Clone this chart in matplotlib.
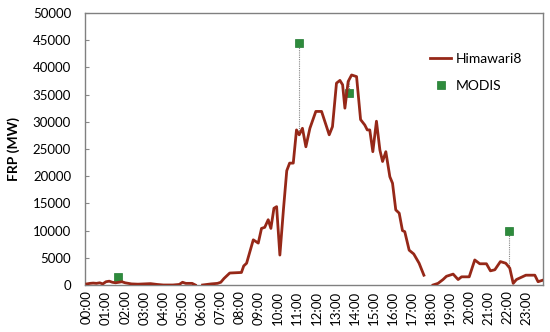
import numpy as np
import matplotlib
matplotlib.use("Agg")
import matplotlib.pyplot as plt

plt.rcParams['font.family'] = ['Lato', 'DejaVu Sans']

nan = float('nan')
# Himawari8 FRP (time in hours, MW)
him_hours = [0.0, 0.17, 0.33, 0.5, 0.67, 0.83, 1.0, 1.17, 1.33, 1.5, 1.67, 1.83, 2.0, 2.17,
             2.33, 2.67, 3.0, 3.33, 3.67, 4.0, 4.5, 4.83, 5.0, 5.17, 5.5, 5.67, 5.85,
             6.05, 6.5, 6.83, 7.0, 7.17, 7.47, 8.08, 8.2, 8.35, 8.7, 8.96, 9.13, 9.3, 9.48,
             9.62, 9.78, 9.92, 10.09, 10.28, 10.45, 10.6, 10.79, 10.96, 11.1, 11.27, 11.45,
             11.66, 11.97, 12.27, 12.67, 12.84, 13.05, 13.23, 13.37, 13.49, 13.66, 13.84,
             14.1, 14.31, 14.53, 14.66, 14.79, 14.95, 15.14, 15.32, 15.46, 15.63, 15.84,
             15.98, 16.15, 16.33, 16.5, 16.62, 16.85, 17.09, 17.37, 17.62, 17.85,
             18.1, 18.36, 18.62, 18.8, 19.15, 19.41, 19.59, 19.99, 20.28, 20.54, 20.89,
             21.1, 21.33, 21.62, 21.9, 22.11, 22.29, 22.46, 22.95, 23.42, 23.59, 23.85]
him_frp = [200, 300, 350, 300, 400, 200, 600, 700, 500, 400, 500, 600, 400, 300,
           200, 150, 200, 250, 100, 0, 0, 100, 500, 300, 300, 0, nan,
           0, 200, 300, 500, 1200, 2200, 2300, 3500, 4000, 8300, 7700, 10400, 10600, 12000,
           10400, 14100, 14400, 5500, 14000, 21000, 22400, 22400, 28500, 27600, 28800, 25400,
           28800, 31900, 31900, 27600, 29100, 37100, 37600, 36800, 32500, 37400, 38600,
           38300, 30400, 29400, 28500, 28500, 24500, 30100, 24800, 22700, 24500, 19900,
           18700, 13800, 13200, 10000, 9800, 6400, 5700, 4000, 1800, nan,
           0, 300, 1000, 1600, 2000, 1000, 1500, 1500, 4600, 3900, 3900,
           2600, 2800, 4300, 4000, 3100, 300, 1000, 1800, 1800, 600, 900]

# MODIS FRP
modis_hours = [1.64, 11.1, 13.71, 22.08]
modis_frp = [1500, 44400, 35350, 10000]

tick_hours = list(range(24))
tick_labels = [f"{h:02d}:00" for h in tick_hours]
y_ticks = list(range(0, 50001, 5000))

fig = plt.figure(figsize=(5.5, 3.32), dpi=100)
ax = fig.add_axes([0.1545, 0.1416, 0.8325, 0.8194])

h = np.array(him_hours, dtype=float)
v = np.array(him_frp, dtype=float)
ok = ~np.isnan(v)
for mh, mv in zip(modis_hours, modis_frp):
    cv = np.interp(mh, h[ok], v[ok])
    ax.plot([mh, mh], [mv, cv], color='#888888', lw=0.8, ls=(0, (1, 1)), zorder=1)

ax.plot(modis_hours, modis_frp, ls='none', marker='s', ms=6, color='#2e8b3c',
        mec='#1f7a30', mew=0.5, label='MODIS', zorder=2)
ax.plot(h, v, color='#962818', lw=2, label='Himawari8', zorder=3)

ax.set_xlim(-0.1, 23.84)
ax.set_ylim(0, 50000)
ax.set_xticks(tick_hours)
ax.set_xticklabels(tick_labels, rotation=90, fontsize=9.5)
ax.set_yticks(y_ticks)
ax.set_yticklabels([str(t) for t in y_ticks], fontsize=9.5)
ax.tick_params(axis='x', length=0, pad=4)
ax.tick_params(axis='y', direction='in', length=3, color='#888888', pad=10)
for s in ax.spines.values():
    s.set_color('#808080')
    s.set_linewidth(1)
ax.set_ylabel('FRP (MW)', fontsize=10, fontweight='bold', labelpad=9)

handles, labels = ax.get_legend_handles_labels()
ax.legend(handles[::-1], labels[::-1], loc='upper left', bbox_to_anchor=(0.727, 0.9),
          frameon=False, fontsize=10, handlelength=1.5, labelspacing=1.1,
          handletextpad=0.3)

fig.savefig('out.png', dpi=100)
